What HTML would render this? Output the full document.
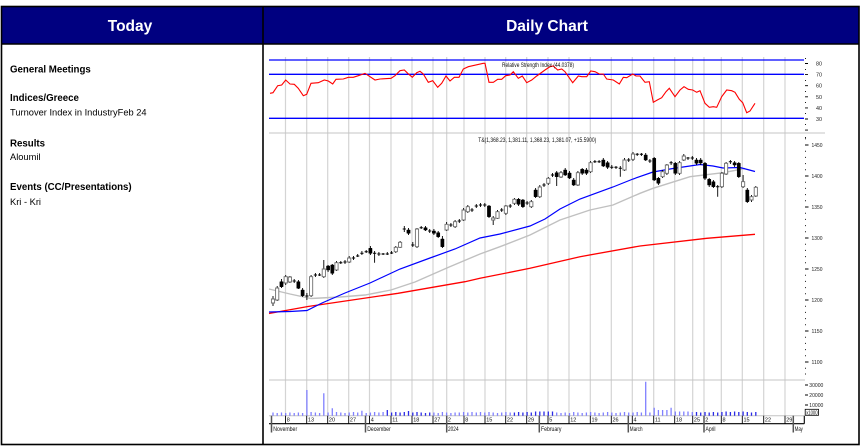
<!DOCTYPE html>
<html><head><meta charset="utf-8"><style>
html,body{margin:0;padding:0;background:#fff;width:864px;height:448px;overflow:hidden}
svg{display:block}
</style></head><body>
<svg width="864" height="448" viewBox="0 0 864 448" xmlns="http://www.w3.org/2000/svg" font-family="'Liberation Sans', Arial, sans-serif">
<rect width="864" height="448" fill="#fff"/>
<!-- header -->
<rect x="1" y="6" width="858" height="38" fill="#000080"/>
<text x="130" y="31" fill="#fff" font-size="15.5" font-weight="bold" text-anchor="middle">Today</text>
<text x="547" y="31" fill="#fff" font-size="15.5" font-weight="bold" text-anchor="middle">Daily Chart</text>
<!-- borders -->
<rect x="1.5" y="6.5" width="857.5" height="438" fill="none" stroke="#000" stroke-width="1.6"/>
<line x1="263" y1="6" x2="263" y2="445" stroke="#000" stroke-width="1.6"/>
<line x1="1" y1="44" x2="859" y2="44" stroke="#000" stroke-width="1.6"/>
<!-- left text -->
<g fill="#000">
<text x="10" y="72.5" font-size="9.7" font-weight="bold">General Meetings</text>
<text x="10" y="101" font-size="9.7" font-weight="bold">Indices/Greece</text>
<text x="10" y="115.5" font-size="9.3">Turnover Index in IndustryFeb 24</text>
<text x="10" y="146.7" font-size="9.7" font-weight="bold">Results</text>
<text x="10" y="160" font-size="9.3">Aloumil</text>
<text x="10" y="190" font-size="9.7" font-weight="bold">Events (CC/Presentations)</text>
<text x="10" y="205" font-size="9.3">Kri - Kri</text>
</g>
<!-- vertical grid -->
<path fill="none" stroke="#d4d4d4" stroke-width="1.2" d="M285.5 57V415.7M306.7 57V415.7M327.7 57V415.7M348.7 57V415.7M369.5 57V415.7M391 57V415.7M412 57V415.7M433 57V415.7M446.7 57V415.7M464 57V415.7M485 57V415.7M505.7 57V415.7M526.7 57V415.7M548 57V415.7M569 57V415.7M590.3 57V415.7M611.3 57V415.7M632.3 57V415.7M653.7 57V415.7M674.7 57V415.7M692.7 57V415.7M704 57V415.7M721.3 57V415.7M742.3 57V415.7M763.7 57V415.7M785 57V415.7"/>
<!-- panel separators -->
<path fill="none" stroke="#c4c4c4" stroke-width="1" d="M269 133H825M269 380H805M269 415.7H804"/>
<!-- RSI level lines -->
<path fill="none" stroke="#0000ff" stroke-width="1.3" d="M269 60H804M269 74.3H804M269 118.3H804"/>
<!-- RSI -->
<polyline fill="none" stroke="#ff0000" stroke-width="1.1" points="270,93.3 273,92.7 277.7,85.7 281.7,85 285.7,80 290,84 294.3,84.3 298.3,88.3 303.3,95.7 306.7,94.3 311,83.3 318.3,82.7 324.3,80 328.3,81 332.7,84 336,79.3 343.3,79 348.3,77.3 353.3,77.3 358.3,75.7 365,73.3 370,76.7 375,80 380,79 391,78.3 395,75.7 400,70.7 404.3,70 407.7,73.3 412.3,77.3 416.7,72.7 420,71.3 423.3,74 428.3,82.3 432.7,80.7 437.7,87.3 441.7,83.3 446,76 450,81 454.3,77.3 459,77.3 463.3,69 468.3,66.7 483.3,63.3 485,63.3 489,82.3 493.3,82.3 497.7,79.3 501.7,79.3 505.7,75.7 510,75 513.3,71.7 518.3,78.3 522.3,76 526.7,82.7 531.7,80 536.7,76 545,70 550,66.7 553.3,66 557.7,70 561.7,69 565,71.7 572.7,82.7 578.3,76 581.7,76.7 586.7,76.7 590.7,71 595,71.7 599.3,74 603.3,74 606.7,79 613.3,80 619.3,84 623.3,77.3 626.7,77.7 632.7,74 636,76 640,76 645,82.3 649.3,81.7 653.3,102.3 657.3,100 661.7,97.7 666,91.7 669.3,88.3 675,96.7 680,90 684,86.7 688.3,89.3 692.7,90 696.7,92.3 700,90.7 705,103.3 709.3,107.3 713.3,106.7 716.7,107.3 721.7,96.7 726.7,90 731.7,90.7 735,92.3 739.3,99.3 742.7,102.7 746.7,112.7 750,111 755,103.3"/>
<text x="502" y="67" font-size="6" fill="#111" textLength="72" lengthAdjust="spacingAndGlyphs">Relative Strength Index (44.0378)</text>
<text x="478.3" y="142" font-size="6" fill="#111" textLength="118" lengthAdjust="spacingAndGlyphs">T&amp;(1,368.23, 1,381.11, 1,368.23, 1,381.07, +15.5900)</text>
<!-- moving averages -->
<polyline fill="none" stroke="#c0c0c0" stroke-width="1.4" points="269,289 290,294 311,298.5 340,297 365,295 391,290 415,282 448,267.5 480,254 500,246.7 530,235 560,220 590,210 613,205 640,193.3 653,188.3 690,176.7 723,172.7 745,168.5"/>
<polyline fill="none" stroke="#ff0000" stroke-width="1.3" points="269,313.5 308,306.5 398,293.3 465,281.7 480,278.3 530,268.3 580,256.7 640,246 706.7,238.3 755,234.3"/>
<polyline fill="none" stroke="#0000ff" stroke-width="1.2" points="269,312 290,311.5 307,310.5 322,303 345,293 370,283 400,269 430,258 455,249 480,238 500,234 530,226 545,219 560,209 580,199 613,187 633,179 653,172 673,168.5 700,164.5 713,166 723,168 740,167.5 755,171.5"/>
<!-- candle wicks -->
<path fill="none" stroke="#000" stroke-width="0.9" d="M273 296V306M277.2 286V301M281.5 279V288M285.7 275V285M289.9 276V283M294.2 279V283M298.4 280V289M302.6 288V297M306.9 293V300M311.1 275V297M315.4 273V277M319.6 273V276M323.8 260V278M328.1 265V272M332.3 264V275M336.5 261V271M340.8 261V264M345 260V264M349.2 256V263M353.5 256V260M357.7 254V257M361.9 251V255M366.2 250V253M370.4 246V255M374.6 251V262.7M378.9 252V256M383.1 253V255M387.3 252V255M391.6 251V254M395.8 246V253M400.1 241V248M404.3 226V232M408.5 228V235M412.8 242V247M417 228V248M421.2 226V229M425.5 226V231M429.7 229V233M433.9 229V235M438.2 231V238M442.4 236V248M446.6 222V231M450.9 223V227M455.1 220V228M459.3 219V223M463.6 208V221M467.8 205V213M472 208V212M476.3 204V208M480.5 203V207M484.8 203V207M489 205V218M493.2 216V225M497.5 210V219M501.7 208V212M505.9 205V215M510.2 204V208M514.4 198V205M518.6 198V206M522.9 199V208M527.1 201V205M531.3 200V208M535.6 188V198M539.8 185V198M544 183V187M548.3 177V185M552.5 173V177M556.7 171V186M561 171V178M565.2 168V176M569.5 171V179M573.7 178V186M577.9 171V186M582.2 168V175M586.4 168V175M590.6 161V173M594.9 160V163M599.1 160V163M603.3 158V167M607.6 161V169M611.8 165V169M616 166V169M620.3 166V176.7M624.5 158V171M628.7 158V162M633 152V161M637.2 153V156M641.4 153V156M645.7 153V161M649.9 159V163M654.2 157V181M658.4 177V185M662.6 170V178M666.9 164V175M671.1 161V165M675.3 162V175M679.6 161V175M683.8 154V161M688 157V160M692.3 156V160M696.5 158V165M700.7 158V165M705 162V180M709.2 178V187M713.4 180V188M717.7 185V196.7M721.9 172V188M726.1 162V175M730.4 160V164M734.6 161V167M738.8 162V178M743.1 175V188M747.3 188V203M751.5 195V202M755.8 186V197"/>
<!-- hollow bodies -->
<path fill="#fff" stroke="#6e6e6e" stroke-width="0.9" d="M271.4 299h3.2V303h-3.2zM275.6 288h3.2V300h-3.2zM284.1 276.7h3.2V283h-3.2zM288.3 277h3.2V282h-3.2zM309.5 276.7h3.2V295.7h-3.2zM322.2 269h3.2V276.7h-3.2zM334.9 262.7h3.2V270h-3.2zM347.6 258h3.2V262h-3.2zM394.2 247.3h3.2V251.7h-3.2zM398.5 242.3h3.2V247.3h-3.2zM415.4 229h3.2V246.7h-3.2zM445 224.3h3.2V230h-3.2zM453.5 221.7h3.2V226.7h-3.2zM462 210h3.2V220h-3.2zM466.2 206.7h3.2V211.7h-3.2zM491.6 218h3.2V220h-3.2zM495.9 211.7h3.2V218.3h-3.2zM504.3 206h3.2V213.3h-3.2zM512.8 199.3h3.2V203.3h-3.2zM529.7 201.7h3.2V206.7h-3.2zM538.2 187h3.2V196.7h-3.2zM546.7 178.3h3.2V183.3h-3.2zM559.4 172.7h3.2V177h-3.2zM576.3 172.7h3.2V185h-3.2zM589 162.7h3.2V171.7h-3.2zM622.9 160h3.2V170h-3.2zM631.4 154h3.2V159.3h-3.2zM661 171.7h3.2V176.7h-3.2zM665.3 165h3.2V173.3h-3.2zM678 162.7h3.2V173.3h-3.2zM682.2 156h3.2V160h-3.2zM720.3 173.3h3.2V186.7h-3.2zM724.5 163.3h3.2V174h-3.2zM741.5 181.7h3.2V186.7h-3.2zM749.9 196.7h3.2V200h-3.2zM754.2 187.3h3.2V196h-3.2z"/>
<!-- black bodies -->
<path fill="#000" stroke="#000" stroke-width="0.5" d="M279.9 281.7h3.2V286.7h-3.2zM296.8 281.7h3.2V288.3h-3.2zM301 290h3.2V295.7h-3.2zM326.5 266h3.2V270h-3.2zM330.7 265h3.2V273.3h-3.2zM368.8 248.3h3.2V253.3h-3.2zM406.9 230h3.2V233.3h-3.2zM423.9 227.7h3.2V230h-3.2zM432.3 231h3.2V233.3h-3.2zM436.6 232.7h3.2V236.7h-3.2zM440.8 239h3.2V246.7h-3.2zM487.4 206h3.2V216.7h-3.2zM517 199.3h3.2V204.3h-3.2zM521.3 200h3.2V206.7h-3.2zM534 190h3.2V196.7h-3.2zM555.1 172.7h3.2V176.7h-3.2zM563.6 170h3.2V175h-3.2zM567.9 173h3.2V178h-3.2zM572.1 180h3.2V185h-3.2zM580.6 169.3h3.2V173.3h-3.2zM584.8 170h3.2V173.3h-3.2zM601.7 160h3.2V166h-3.2zM606 162.7h3.2V167.3h-3.2zM644.1 155h3.2V160h-3.2zM652.6 158.3h3.2V180h-3.2zM656.8 178.3h3.2V183.3h-3.2zM673.7 163.3h3.2V173.3h-3.2zM694.9 160h3.2V163.3h-3.2zM699.1 160h3.2V163h-3.2zM703.4 163.3h3.2V178.3h-3.2zM707.6 179.3h3.2V185h-3.2zM711.8 181.7h3.2V186.7h-3.2zM733 162.7h3.2V165h-3.2zM737.2 163.3h3.2V176.7h-3.2zM745.7 190h3.2V201.7h-3.2z"/>
<!-- dojis -->
<path fill="none" stroke="#000" stroke-width="1" d="M292.6 281h3.2M305.3 296h3.2M313.8 275h3.2M318 275h3.2M339.2 262.7h3.2M343.4 262h3.2M351.9 258h3.2M356.1 256h3.2M360.3 253.3h3.2M364.6 251.7h3.2M373 253.3h3.2M377.3 254h3.2M381.5 254h3.2M385.7 254h3.2M390 253h3.2M402.7 229h3.2M411.2 245h3.2M419.6 227.7h3.2M428.1 231h3.2M449.3 225h3.2M457.7 221h3.2M470.4 210h3.2M474.7 206h3.2M478.9 205h3.2M483.2 205h3.2M500.1 210h3.2M508.6 206h3.2M525.5 203h3.2M542.4 185h3.2M550.9 175h3.2M593.3 161.7h3.2M597.5 161.7h3.2M610.2 167.3h3.2M614.4 167.3h3.2M618.7 168.3h3.2M627.1 160h3.2M635.6 154.3h3.2M639.8 154.3h3.2M648.3 161h3.2M669.5 162.7h3.2M686.4 158h3.2M690.7 158h3.2M716.1 186.7h3.2M728.8 161.7h3.2"/>
<!-- volume bars -->
<path fill="none" stroke="#8080ff" stroke-width="1.3" d="M273 415.7V412.5M277.2 415.7V413M281.5 415.7V412.5M285.7 415.7V413M289.9 415.7V412.5M294.2 415.7V413M298.4 415.7V412.5M302.6 415.7V413M306.9 415.7V390M311.1 415.7V412M315.4 415.7V412.5M319.6 415.7V413M323.8 415.7V393.3M328.1 415.7V412.5M332.3 415.7V408.3M336.5 415.7V412M340.8 415.7V412.5M345 415.7V413M349.2 415.7V412.5M353.5 415.7V412M357.7 415.7V412.5M361.9 415.7V410.7M366.2 415.7V413M370.4 415.7V412.5M374.6 415.7V412M378.9 415.7V412.5M383.1 415.7V412M433.9 415.7V412.5M438.2 415.7V413M442.4 415.7V412M446.6 415.7V412.5M450.9 415.7V413M455.1 415.7V412.5M459.3 415.7V412.5M463.6 415.7V412M467.8 415.7V412.5M472 415.7V412M476.3 415.7V412.5M480.5 415.7V412M484.8 415.7V412.5M489 415.7V412M493.2 415.7V412.5M497.5 415.7V413M501.7 415.7V412.5M505.9 415.7V412M510.2 415.7V412.5M556.7 415.7V412.5M561 415.7V413M565.2 415.7V412.5M569.5 415.7V413M573.7 415.7V412M577.9 415.7V412.5M582.2 415.7V413M586.4 415.7V412.5M590.6 415.7V412M594.9 415.7V412.5M599.1 415.7V413M603.3 415.7V412.5M607.6 415.7V412M611.8 415.7V412.5M616 415.7V413M620.3 415.7V412.5M624.5 415.7V412M628.7 415.7V412.5M633 415.7V412.5M637.2 415.7V412M641.4 415.7V412.5M645.7 415.7V381.7M649.9 415.7V412.5M654.2 415.7V407.7M658.4 415.7V410M662.6 415.7V410M666.9 415.7V410M671.1 415.7V407.7M675.3 415.7V411.5M679.6 415.7V411.5M683.8 415.7V411.5M688 415.7V411.5M692.3 415.7V412"/>
<path fill="none" stroke="#2a2ae6" stroke-width="1.3" d="M387.3 415.7V410M391.6 415.7V412.5M395.8 415.7V412M400.1 415.7V412.5M404.3 415.7V412M408.5 415.7V411M412.8 415.7V412.5M417 415.7V412M421.2 415.7V412.5M425.5 415.7V413M429.7 415.7V412.5M514.4 415.7V412.5M518.6 415.7V412M522.9 415.7V412.5M527.1 415.7V412M531.3 415.7V412.5M535.6 415.7V411.5M539.8 415.7V411.5M544 415.7V411.5M548.3 415.7V411.5M552.5 415.7V411.5M696.5 415.7V412M700.7 415.7V412.5M705 415.7V412M709.2 415.7V412.5M713.4 415.7V412M717.7 415.7V412.5M721.9 415.7V412M726.1 415.7V411.5M730.4 415.7V412M734.6 415.7V411.5M738.8 415.7V412M743.1 415.7V411.5M747.3 415.7V412M751.5 415.7V412.5M755.8 415.7V412"/>
<!-- x axis -->
<path fill="none" stroke="#000" stroke-width="1.1" d="M269 423.7H804.3M804.3 415.7V423.7"/>
<path fill="none" stroke="#000" stroke-width="0.9" d="M285.5 415.7V423.7M306.7 415.7V423.7M327.7 415.7V423.7M348.7 415.7V423.7M369.5 415.7V423.7M391 415.7V423.7M412 415.7V423.7M433 415.7V423.7M464 415.7V423.7M485 415.7V423.7M505.7 415.7V423.7M526.7 415.7V423.7M548 415.7V423.7M569 415.7V423.7M590.3 415.7V423.7M611.3 415.7V423.7M632.3 415.7V423.7M653.7 415.7V423.7M674.7 415.7V423.7M692.7 415.7V423.7M721.3 415.7V423.7M742.3 415.7V423.7M763.7 415.7V423.7M785 415.7V423.7"/>
<path fill="none" stroke="#555" stroke-width="1.5" d="M271.5 415.7V432.5M365.5 415.7V432.5M446.7 415.7V432.5M539.3 415.7V432.5M628.3 415.7V432.5M704 415.7V432.5M793.3 415.7V432.5"/>
<g font-size="5.5" fill="#111">
<text x="286.7" y="421.5">8</text><text x="307.9" y="421.5">13</text><text x="328.9" y="421.5">20</text><text x="349.9" y="421.5">27</text>
<text x="370.7" y="421.5">4</text><text x="392.2" y="421.5">11</text><text x="413.2" y="421.5">18</text><text x="434.2" y="421.5">27</text>
<text x="447.9" y="421.5">2</text><text x="465.2" y="421.5">8</text><text x="486.2" y="421.5">15</text><text x="506.9" y="421.5">22</text><text x="527.9" y="421.5">29</text>
<text x="549.2" y="421.5">5</text><text x="570.2" y="421.5">12</text><text x="591.5" y="421.5">19</text><text x="612.5" y="421.5">26</text>
<text x="633.5" y="421.5">4</text><text x="654.9" y="421.5">11</text><text x="675.9" y="421.5">18</text><text x="693.9" y="421.5">25</text>
<text x="705.2" y="421.5">2</text><text x="722.5" y="421.5">8</text><text x="743.5" y="421.5">15</text><text x="764.9" y="421.5">22</text><text x="786.2" y="421.5">29</text>
</g>
<g font-size="6" fill="#111">
<text x="273.2" y="431" textLength="24" lengthAdjust="spacingAndGlyphs">November</text>
<text x="367.2" y="431" textLength="23.5" lengthAdjust="spacingAndGlyphs">December</text>
<text x="448" y="431" textLength="10.6" lengthAdjust="spacingAndGlyphs">2024</text>
<text x="541" y="431" textLength="20.5" lengthAdjust="spacingAndGlyphs">February</text>
<text x="629.8" y="431" textLength="12.7" lengthAdjust="spacingAndGlyphs">March</text>
<text x="705.5" y="431" textLength="10" lengthAdjust="spacingAndGlyphs">April</text>
<text x="794.8" y="431" textLength="8" lengthAdjust="spacingAndGlyphs">May</text>
</g>
<!-- right axis ticks -->
<path fill="none" stroke="#000" stroke-width="0.9" d="M805 63.5h3M805 74.6h3M805 85.7h3M805 96.8h3M805 107.9h3M805 119h3M805 130.1h3M805 145h3.5M805 176h3.5M805 207h3.5M805 238h3.5M805 269h3.5M805 300h3.5M805 331h3.5M805 362h3.5M805 385h3M805 395h3M805 405h3"/>
<path fill="none" stroke="#000" stroke-width="0.9" d="M805.5 58v1M805.5 69v1M805.5 80v1M805.5 91v1M805.5 102v1M805.5 113v1M805.5 124v1M805.5 137v1M805.5 138.3v1M805.5 150.7v1M805.5 156.9v1M805.5 163.1v1M805.5 169.3v1M805.5 181.7v1M805.5 187.9v1M805.5 194.1v1M805.5 200.3v1M805.5 212.7v1M805.5 218.9v1M805.5 225.1v1M805.5 231.3v1M805.5 243.7v1M805.5 249.9v1M805.5 256.1v1M805.5 262.3v1M805.5 274.7v1M805.5 280.9v1M805.5 287.1v1M805.5 293.3v1M805.5 305.7v1M805.5 311.9v1M805.5 318.1v1M805.5 324.3v1M805.5 336.7v1M805.5 342.9v1M805.5 349.1v1M805.5 355.3v1M805.5 367.7v1M805.5 373.5v1"/>
<g font-size="5.5" fill="#222">
<text x="816" y="65.5" textLength="6" lengthAdjust="spacingAndGlyphs">80</text>
<text x="816" y="76.6" textLength="6" lengthAdjust="spacingAndGlyphs">70</text>
<text x="816" y="87.7" textLength="6" lengthAdjust="spacingAndGlyphs">60</text>
<text x="816" y="98.8" textLength="6" lengthAdjust="spacingAndGlyphs">50</text>
<text x="816" y="109.9" textLength="6" lengthAdjust="spacingAndGlyphs">40</text>
<text x="816" y="121" textLength="6" lengthAdjust="spacingAndGlyphs">30</text>
<text x="811.5" y="147" textLength="11" lengthAdjust="spacingAndGlyphs">1450</text>
<text x="811.5" y="178" textLength="11" lengthAdjust="spacingAndGlyphs">1400</text>
<text x="811.5" y="209" textLength="11" lengthAdjust="spacingAndGlyphs">1350</text>
<text x="811.5" y="240" textLength="11" lengthAdjust="spacingAndGlyphs">1300</text>
<text x="811.5" y="271" textLength="11" lengthAdjust="spacingAndGlyphs">1250</text>
<text x="811.5" y="302" textLength="11" lengthAdjust="spacingAndGlyphs">1200</text>
<text x="811.5" y="333" textLength="11" lengthAdjust="spacingAndGlyphs">1150</text>
<text x="811.5" y="364" textLength="11" lengthAdjust="spacingAndGlyphs">1100</text>
<text x="809.3" y="387" textLength="14" lengthAdjust="spacingAndGlyphs">30000</text>
<text x="809.3" y="397" textLength="14" lengthAdjust="spacingAndGlyphs">20000</text>
<text x="809.3" y="407" textLength="14" lengthAdjust="spacingAndGlyphs">10000</text>
</g>
<rect x="805.2" y="409.3" width="13.3" height="6" fill="#fff" stroke="#000" stroke-width="0.8"/>
<text x="806.2" y="414.3" font-size="5" fill="#111" textLength="11.4" lengthAdjust="spacingAndGlyphs">x1000</text>
</svg>
</body></html>
